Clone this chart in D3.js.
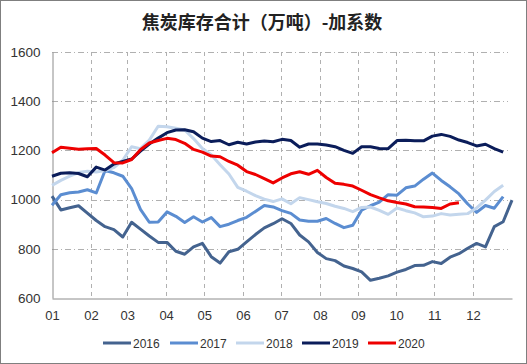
<!DOCTYPE html>
<html><head><meta charset="utf-8">
<script src="https://cdn.jsdelivr.net/npm/d3@7"></script>
<style>
html,body{margin:0;padding:0;background:#fff;}
svg{display:block;}
</style></head>
<body>
<svg id="chart" width="527" height="364"></svg>
<script>
const title = "焦炭库存合计（万吨）-加系数";
const monthLabels = ["01","02","03","04","05","06","07","08","09","10","11","12"];
const monthStartWeeks = [0, 4.4, 8.5, 12.9, 17.2, 21.6, 25.9, 30.3, 34.6, 38.9, 43.2, 47.6];
const yTicks = [600, 800, 1000, 1200, 1400, 1600];
const seriesNames = ["2016", "2017", "2018", "2019", "2020"];
const seriesColors = ["#44638F", "#5B8DD1", "#C3D6EC", "#0B1D5A", "#EE0000"];

const v2016 = [1014,958,967,975,945,915,890,878,848,908,880,852,826,826,790,778,808,822,768,742,788,798,828,858,885,902,922,903,856,828,785,760,752,730,720,706,672,680,690,705,716,732,733,748,740,766,780,802,822,808,890,910,998];
const v2017 = [977,1020,1028,1031,1040,1027,1118,1109,1095,1045,960,908,909,950,932,907,930,909,927,890,900,915,928,952,976,970,955,944,917,912,912,923,903,886,896,957,975,990,1020,1018,1048,1055,1083,1108,1078,1052,1023,982,948,976,965,1012];
const v2018 = [1058,1078,1095,1110,1115,1112,1118,1130,1160,1215,1207,1242,1298,1296,1290,1283,1248,1208,1182,1142,1104,1050,1034,1016,1002,992,1003,983,1008,1000,991,984,973,964,951,968,970,956,940,966,955,946,930,933,943,937,940,943,966,998,1033,1058];
const v2019 = [1095,1107,1109,1106,1093,1132,1120,1145,1155,1165,1197,1226,1250,1272,1283,1284,1276,1250,1236,1240,1223,1233,1226,1234,1238,1235,1245,1240,1213,1226,1226,1222,1215,1200,1188,1215,1215,1208,1207,1240,1241,1239,1239,1258,1265,1257,1242,1232,1218,1225,1207,1193];
const v2020 = [1190,1213,1209,1205,1207,1208,1181,1150,1149,1163,1203,1230,1240,1249,1244,1229,1204,1193,1177,1174,1155,1140,1114,1102,1085,1068,1088,1105,1113,1103,1119,1090,1066,1062,1055,1038,1020,1007,995,988,982,971,970,968,964,982,987];
const seriesValues = [v2016, v2017, v2018, v2019, v2020];

const svg = d3.select("#chart");
const W = 527, H = 364;
const mLeft = 52, mRight = 512, mTop = 52, mBottom = 298;

svg.append("rect").attr("x",0.5).attr("y",0.5).attr("width",W-1).attr("height",H-1)
  .attr("fill","#fff").attr("stroke","#7f7f7f").attr("stroke-width",1);

svg.append("text").attr("x", 262).attr("y", 29).attr("text-anchor","middle")
  .attr("font-family","'Noto Sans CJK SC', sans-serif").attr("font-weight","bold")
  .attr("font-size",18).attr("fill","#222").text(title);

const x = d3.scaleLinear().domain([0, 52]).range([mLeft, mRight]);
const y = d3.scaleLinear().domain([600, 1600]).range([mBottom, mTop]);

const g = svg.append("g");
g.selectAll("line.h").data(yTicks.filter(d => d > 600)).join("line")
  .attr("x1", mLeft).attr("x2", 508)
  .attr("y1", d => Math.round(y(d)) + 0.5).attr("y2", d => Math.round(y(d)) + 0.5)
  .attr("stroke","#b0b0b0").attr("stroke-width",1).attr("stroke-dasharray","6,3,1,3");
g.selectAll("line.v").data(monthStartWeeks.slice(1)).join("line")
  .attr("x1", d => Math.round(x(d)) + 0.5).attr("x2", d => Math.round(x(d)) + 0.5)
  .attr("y1", mTop).attr("y2", mBottom)
  .attr("stroke","#b0b0b0").attr("stroke-width",1).attr("stroke-dasharray","4,4");

const yAxis = d3.axisLeft(y).tickValues(yTicks).tickSize(0).tickPadding(12).tickFormat(d3.format("d"));
const ya = svg.append("g").attr("transform", `translate(${mLeft + 0.5},0)`).call(yAxis);
ya.select(".domain").attr("stroke","#8c8c8c");
ya.selectAll("text").attr("font-family","'Liberation Sans', Arial, sans-serif").attr("font-size",13.5).attr("fill","#333");

const xAxis = d3.axisBottom(x).tickValues(monthStartWeeks).tickSize(0).tickPadding(12)
  .tickFormat((d, i) => monthLabels[i]);
const xa = svg.append("g").attr("transform", `translate(0,${mBottom + 0.5})`).call(xAxis);
xa.select(".domain").attr("stroke","#8c8c8c");
xa.selectAll("text").attr("font-family","'Liberation Sans', Arial, sans-serif").attr("font-size",13).attr("fill","#333");

const line = d3.line().x((d, i) => x(i)).y(d => y(d));
seriesValues.forEach((vals, k) => {
  svg.append("path").datum(vals).attr("d", line)
    .attr("fill","none").attr("stroke", seriesColors[k]).attr("stroke-width",3)
    .attr("stroke-linejoin","round");
});

const legendX = [103, 170, 236, 302, 368];
const lg = svg.append("g");
seriesNames.forEach((n, k) => {
  lg.append("line").attr("x1", legendX[k]).attr("x2", legendX[k] + 28)
    .attr("y1", 343).attr("y2", 343).attr("stroke", seriesColors[k]).attr("stroke-width",3);
  lg.append("text").attr("x", legendX[k] + 30).attr("y", 347.5)
    .attr("font-family","'Liberation Sans', Arial, sans-serif").attr("font-size",12).attr("fill","#333").text(n);
});
</script>
</body></html>
